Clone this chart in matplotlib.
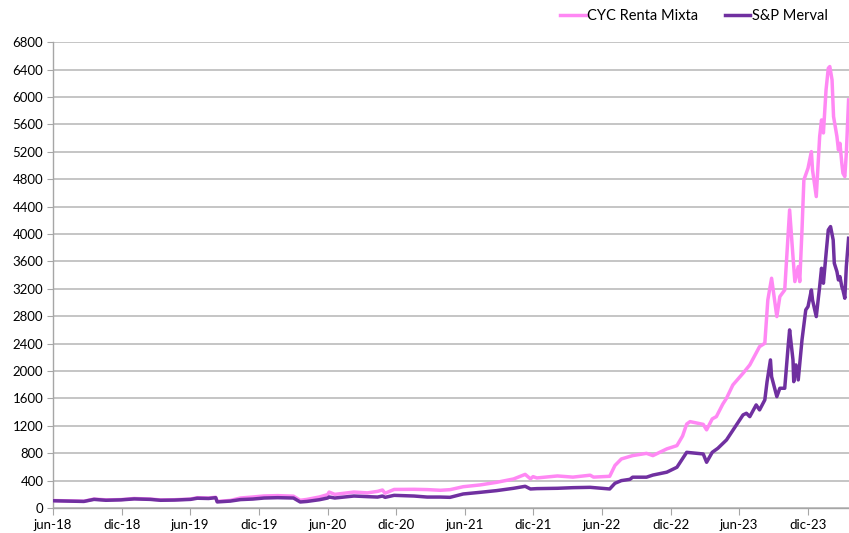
import numpy as np
import pandas as pd
import matplotlib
matplotlib.use("Agg")
import matplotlib.pyplot as plt

# CYC Renta Mixta (base 100)
cyc_dates = ["2018-06-01", "2018-07-10", "2018-08-22", "2018-09-18", "2018-10-20", "2018-11-29",
             "2019-01-03", "2019-02-15", "2019-03-14", "2019-04-20", "2019-06-02", "2019-06-20",
             "2019-07-20", "2019-08-08", "2019-08-12", "2019-09-16", "2019-10-13", "2019-11-15",
             "2019-12-15", "2020-01-20", "2020-03-02", "2020-03-20", "2020-04-07", "2020-05-10",
             "2020-06-01", "2020-06-05", "2020-06-20", "2020-08-10", "2020-09-15", "2020-10-12",
             "2020-10-25", "2020-11-01", "2020-11-25", "2021-01-17", "2021-02-21", "2021-03-28",
             "2021-04-23", "2021-05-28", "2021-07-12", "2021-08-25", "2021-10-09", "2021-11-09",
             "2021-11-23", "2021-11-30", "2021-12-10", "2022-02-03", "2022-03-16", "2022-05-01",
             "2022-05-10", "2022-06-22", "2022-07-06", "2022-07-23", "2022-08-22", "2022-09-28",
             "2022-10-15", "2022-11-21", "2022-12-18", "2023-01-02", "2023-01-13", "2023-01-22",
             "2023-02-26", "2023-03-07", "2023-03-22", "2023-04-02", "2023-04-19", "2023-04-29",
             "2023-05-16", "2023-06-12", "2023-06-30", "2023-07-26", "2023-08-09", "2023-08-17",
             "2023-08-27", "2023-09-10", "2023-09-18", "2023-10-01", "2023-10-14", "2023-10-23",
             "2023-10-28", "2023-11-06", "2023-11-10", "2023-11-16", "2023-11-21", "2023-12-02",
             "2023-12-11", "2023-12-14", "2023-12-24", "2024-01-02", "2024-01-07", "2024-01-12",
             "2024-01-19", "2024-01-25", "2024-01-29", "2024-02-04", "2024-02-08", "2024-02-17",
             "2024-02-21", "2024-02-25", "2024-03-01", "2024-03-04", "2024-03-09", "2024-03-13",
             "2024-03-19"]
cyc_values = [108, 104, 98, 130, 118, 122,
              138, 130, 117, 120, 130, 150,
              145, 156, 95, 110, 145, 160,
              175, 180, 172, 112, 125, 160,
              195, 232, 198, 232, 220, 242,
              262, 215, 270, 272, 268, 258,
              267, 310, 336, 374, 423, 490,
              425, 457, 438, 467, 450, 478,
              450, 462, 620, 715, 764, 797,
              764, 862, 910, 1050, 1225, 1260,
              1220, 1140, 1300, 1333, 1515, 1601,
              1796, 1966, 2088, 2355, 2404, 3036,
              3353, 2793, 3085, 3182, 4350, 3669,
              3304, 3523, 3304, 4058, 4788, 4959,
              5202, 4934, 4545, 5421, 5664, 5474,
              6102, 6419, 6443, 6248, 5713, 5421,
              5226, 5323, 5032, 4886, 4837, 5178,
              5956]

# S&P Merval (base 100)
merval_dates = ["2018-06-01", "2018-07-10", "2018-08-22", "2018-09-18", "2018-10-20", "2018-11-29",
                "2019-01-03", "2019-02-15", "2019-03-14", "2019-04-20", "2019-06-02", "2019-06-20",
                "2019-07-20", "2019-08-08", "2019-08-12", "2019-09-16", "2019-10-13", "2019-11-15",
                "2019-12-15", "2020-01-20", "2020-03-02", "2020-03-20", "2020-04-07", "2020-05-10",
                "2020-06-01", "2020-06-05", "2020-06-20", "2020-08-10", "2020-09-15", "2020-10-12",
                "2020-10-25", "2020-11-01", "2020-11-25", "2021-01-17", "2021-02-21", "2021-03-28",
                "2021-04-23", "2021-05-28", "2021-07-12", "2021-08-25", "2021-10-09", "2021-11-09",
                "2021-11-23", "2021-12-10", "2022-02-03", "2022-03-16", "2022-05-01", "2022-06-22",
                "2022-07-06", "2022-07-23", "2022-08-15", "2022-08-22", "2022-09-28", "2022-10-15",
                "2022-11-21", "2022-12-18", "2023-01-13", "2023-02-26", "2023-03-07", "2023-03-22",
                "2023-04-06", "2023-04-29", "2023-06-12", "2023-06-21", "2023-06-30", "2023-07-17",
                "2023-07-26", "2023-08-09", "2023-08-15", "2023-08-24", "2023-08-27", "2023-09-10",
                "2023-09-18", "2023-10-01", "2023-10-10", "2023-10-14", "2023-10-23", "2023-10-25",
                "2023-10-31", "2023-11-06", "2023-11-16", "2023-11-26", "2023-12-02", "2023-12-11",
                "2023-12-14", "2023-12-24", "2024-01-02", "2024-01-07", "2024-01-12", "2024-01-20",
                "2024-01-25", "2024-01-31", "2024-02-07", "2024-02-10", "2024-02-17", "2024-02-21",
                "2024-02-25", "2024-03-01", "2024-03-04", "2024-03-09", "2024-03-13", "2024-03-19"]
merval_values = [105, 100, 95, 125, 112, 118,
                 132, 125, 112, 115, 125, 142,
                 138, 150, 88, 100, 122, 130,
                 145, 150, 145, 87, 95, 120,
                 145, 160, 145, 174, 165, 159,
                 174, 155, 184, 174, 159, 159,
                 155, 204, 228, 253, 287, 316,
                 277, 282, 287, 296, 301, 277,
                 360, 399, 418, 449, 449, 480,
                 522, 594, 812, 788, 667, 812,
                 871, 993, 1358, 1382, 1333, 1504,
                 1431, 1577, 1844, 2161, 1917, 1625,
                 1747, 1747, 2355, 2599, 2161, 1844,
                 2088, 1869, 2453, 2891, 2939, 3182,
                 3036, 2793, 3231, 3499, 3280, 3766,
                 4058, 4107, 3912, 3572, 3450, 3328,
                 3377, 3231, 3182, 3061, 3523, 3937]

tick_dates = ["2018-06-01", "2018-12-01", "2019-06-01", "2019-12-01", "2020-06-01", "2020-12-01",
              "2021-06-01", "2021-12-01", "2022-06-01", "2022-12-01", "2023-06-01", "2023-12-01"]
tick_labels = ["jun-18", "dic-18", "jun-19", "dic-19", "jun-20", "dic-20",
               "jun-21", "dic-21", "jun-22", "dic-22", "jun-23", "dic-23"]

plt.rcParams['font.family'] = ['Lato', 'DejaVu Sans']

fig = plt.figure(figsize=(8.49, 5.33), dpi=100)
ax = fig.add_axes([0.0625, 0.047, 0.937, 0.874])

grid_col = '#BBBBBB'
ax.plot(pd.to_datetime(cyc_dates), cyc_values, color='#FF88F4', lw=2.5,
        label='CYC Renta Mixta', zorder=3)
ax.plot(pd.to_datetime(merval_dates), merval_values, color='#7030A0', lw=2.5,
        label='S&P Merval', zorder=4)

ax.set_ylim(0, 6800)
ax.set_yticks(np.arange(0, 6801, 400))
ax.set_xlim(pd.Timestamp("2018-06-01"), pd.Timestamp("2024-03-19"))
ax.set_xticks(pd.to_datetime(tick_dates))
ax.set_xticklabels(tick_labels)

ax.yaxis.grid(True, color=grid_col, lw=1.2)
ax.set_axisbelow(True)
for s in ['top', 'right']:
    ax.spines[s].set_visible(False)
for s in ['left', 'bottom']:
    ax.spines[s].set_color('#A6A6A6')
    ax.spines[s].set_linewidth(1.0)
ax.tick_params(axis='both', colors='#A6A6A6', labelcolor='black', labelsize=9.5)
ax.tick_params(axis='y', length=4, pad=3)
ax.tick_params(axis='x', length=5, pad=3)

ax.legend(loc='upper right', bbox_to_anchor=(0.99, 1.10), ncol=2, frameon=False,
          fontsize=10.5, handlelength=1.75, handletextpad=0.1, columnspacing=1.8)

plt.savefig("out.png", dpi=100)
